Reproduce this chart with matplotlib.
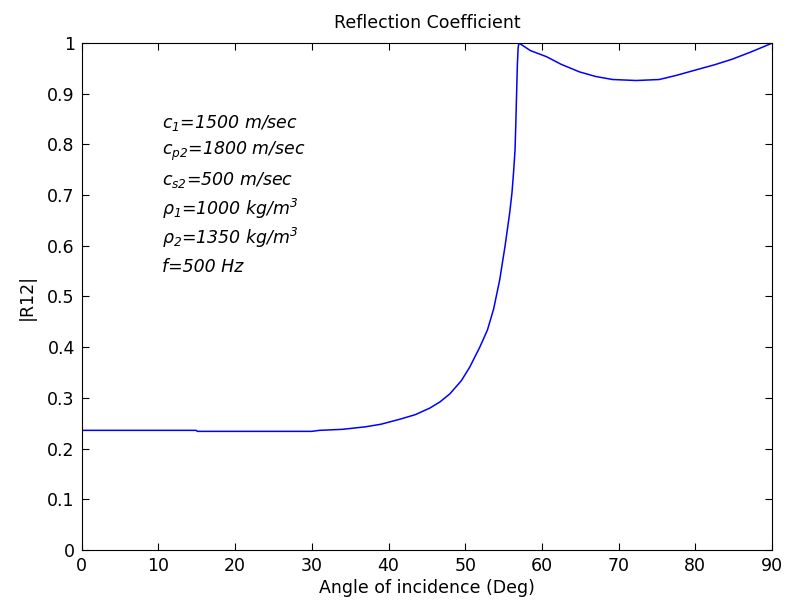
import matplotlib
matplotlib.use("Agg")
import matplotlib.pyplot as plt

# |R12|
angle_deg = [0, 5, 10, 14.9, 15.1, 20, 25, 30, 31, 34, 37, 39, 41.5, 43.5, 45.4,
             46.7, 48, 49.5, 50.6, 51.9, 52.9, 53.7, 54.5, 55.2, 55.8, 56.1, 56.3,
             56.5, 56.6, 56.7, 56.8, 56.9, 57.0, 58.5, 60.6, 62.5, 64.9, 67,
             69.2, 72.3, 75.3, 77.5, 80.1, 82.5, 84.8, 87.2, 89.6, 90]
r12 = [0.236, 0.236, 0.236, 0.236, 0.234, 0.234, 0.234, 0.234, 0.236, 0.238,
       0.243, 0.248, 0.258, 0.267, 0.280, 0.292, 0.308, 0.334, 0.361, 0.400,
       0.434, 0.475, 0.533, 0.600, 0.665, 0.705, 0.744, 0.790, 0.842, 0.900,
       0.957, 0.990, 1.000, 0.985, 0.973, 0.958, 0.943, 0.934, 0.928, 0.926,
       0.928, 0.936, 0.947, 0.957, 0.968, 0.982, 0.997, 1.000]

params = [r"$c_1$=1500 m/sec",
          r"$c_{p2}$=1800 m/sec",
          r"$c_{s2}$=500 m/sec",
          r"$\rho_1$=1000 kg/m$^3$",
          r"$\rho_2$=1350 kg/m$^3$",
          r"f=500 Hz"]

plt.rcParams["font.family"] = ["DejaVu Sans"]
plt.rcParams["mathtext.fontset"] = "custom"
plt.rcParams["mathtext.rm"] = "DejaVu Sans:italic"
plt.rcParams["mathtext.it"] = "DejaVu Sans:italic"

fig = plt.figure(figsize=(7.88, 6.03), dpi=100)
ax = fig.add_axes([0.1037, 0.0879, 0.8760, 0.8408])
ax.plot(angle_deg, r12, color="#0000ff", lw=1.1)

ax.set_xlim(0, 90)
ax.set_ylim(0, 1)
ax.set_xticks(range(0, 91, 10))
ax.set_yticks([i / 10 for i in range(11)])
ax.set_yticklabels(["0"] + [f"{i / 10:g}" for i in range(1, 10)] + ["1"])
ax.tick_params(direction="in", length=5, width=0.8, top=True, right=True,
               labelsize=12.5, pad=5)
for s in ax.spines.values():
    s.set_linewidth(0.8)

ax.set_xlabel("Angle of incidence (Deg)", fontsize=12.5, labelpad=3)
ax.set_ylabel("|R12|", fontsize=12.5, labelpad=8)
ax.set_title("Reflection Coefficient", fontsize=12.5, pad=11)

y0 = 0.842
for i, line in enumerate(params):
    ax.text(10.5, y0 - i * 0.0566, line, fontsize=12.5, style="italic",
            va="center", ha="left")

fig.savefig("out.png", dpi=100)
